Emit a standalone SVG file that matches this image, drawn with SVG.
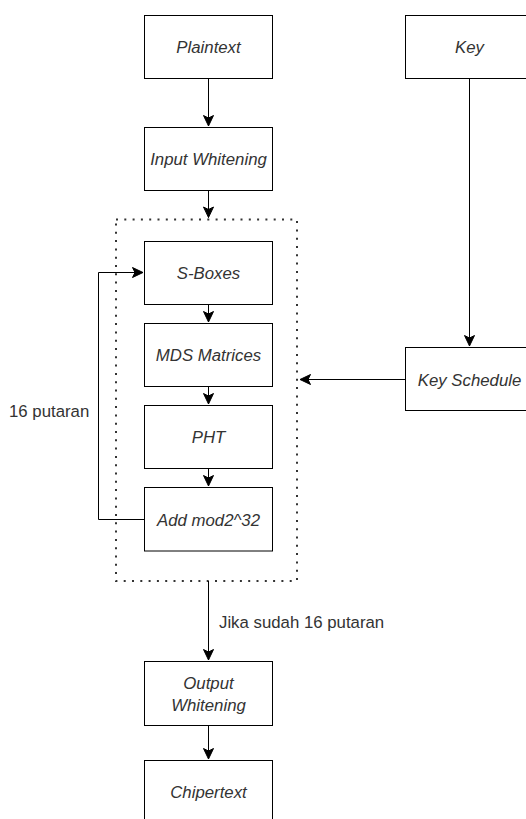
<svg xmlns="http://www.w3.org/2000/svg" width="526" height="819" viewBox="0 0 526 819">
<style>
.box{fill:#fff;stroke:#000;stroke-width:1}
.lbl{font-family:"Liberation Sans",Arial,sans-serif;font-size:16.8px;font-style:italic;fill:#333;text-anchor:middle}
.txt{font-family:"Liberation Sans",Arial,sans-serif;font-size:16.8px;fill:#333}
.edge{fill:none;stroke:#000;stroke-width:1}
.dotted{fill:none;stroke:#333;stroke-width:2;stroke-dasharray:2 6.3}
</style>
<defs>
<marker id="arr" markerUnits="userSpaceOnUse" markerWidth="14" markerHeight="14" viewBox="-12 -7 14 14" refX="0" refY="0" orient="auto">
<path d="M0,0 L-10.5,-5 L-8,0 L-10.5,5 Z" fill="#000" stroke="#000" stroke-width="1"/>
</marker>
</defs>
<rect width="526" height="819" fill="#fff"/>

<g id="group-container">
<rect class="dotted" x="116" y="219.5" width="181" height="361.5"/>
</g>

<g id="connectors">
<path class="edge" d="M208.5,78.5 V126" marker-end="url(#arr)"/>
<path class="edge" d="M208.5,190.5 V217.5" marker-end="url(#arr)"/>
<path class="edge" d="M208.5,304.5 V322" marker-end="url(#arr)"/>
<path class="edge" d="M208.5,386.5 V404" marker-end="url(#arr)"/>
<path class="edge" d="M208.5,468.5 V486" marker-end="url(#arr)"/>
<path class="edge" d="M144.5,519.5 H98.5 V272.5 H143" marker-end="url(#arr)"/>
<path class="edge" d="M208.5,581 V660" marker-end="url(#arr)"/>
<path class="edge" d="M208.5,724.5 V759" marker-end="url(#arr)"/>
<path class="edge" d="M469.5,78.5 V346" marker-end="url(#arr)"/>
<path class="edge" d="M405.5,379.5 H300" marker-end="url(#arr)"/>
</g>

<g id="plaintext"><rect class="box" x="144.5" y="15.5" width="128" height="63"/><text class="lbl" x="208.5" y="53">Plaintext</text></g>
<g id="input-whitening"><rect class="box" x="144.5" y="127.5" width="128" height="63"/><text class="lbl" x="208.5" y="165">Input Whitening</text></g>
<g id="s-boxes"><rect class="box" x="144.5" y="241.5" width="128" height="63"/><text class="lbl" x="208.5" y="279">S-Boxes</text></g>
<g id="mds"><rect class="box" x="144.5" y="323.5" width="128" height="63"/><text class="lbl" x="208.5" y="361">MDS Matrices</text></g>
<g id="pht"><rect class="box" x="144.5" y="405.5" width="128" height="63"/><text class="lbl" x="208.5" y="443">PHT</text></g>
<g id="add"><rect class="box" x="144.5" y="487.5" width="128" height="63.5"/><text class="lbl" x="208.5" y="525.5">Add mod2^32</text></g>
<g id="output-whitening"><rect class="box" x="144.5" y="661.5" width="128" height="64"/><text class="lbl" x="208.5" y="689">Output</text><text class="lbl" x="208.5" y="710.5">Whitening</text></g>
<g id="chipertext"><rect class="box" x="144.5" y="760.5" width="128" height="63"/><text class="lbl" x="208.5" y="797.5">Chipertext</text></g>
<g id="key"><rect class="box" x="405.5" y="15.5" width="128" height="63"/><text class="lbl" x="469.5" y="53">Key</text></g>
<g id="key-schedule"><rect class="box" x="405.5" y="347.5" width="128" height="63"/><text class="lbl" x="469.5" y="385.5">Key Schedule</text></g>

<g id="labels">
<text class="txt" x="9" y="416.5">16 putaran</text>
<text class="txt" x="219" y="627.5">Jika sudah 16 putaran</text>
</g>
</svg>
